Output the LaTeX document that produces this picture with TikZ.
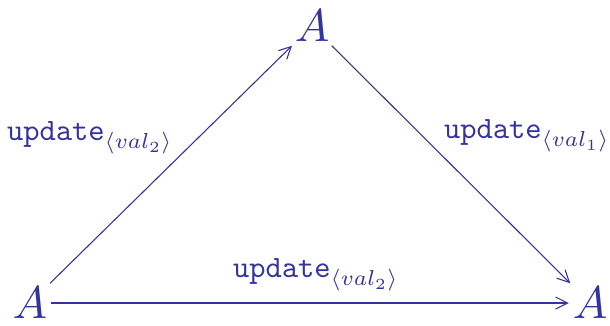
\documentclass[tikz,border=0pt]{standalone}
\usetikzlibrary{arrows.meta}
\definecolor{ink}{RGB}{52,52,158}
\newcommand{\bigAglyph}{\scalebox{4.6}{$A$}}
\newcommand{\updlbl}[1]{\scalebox{3.1}{$\mathtt{update}_{\langle val_{#1}\rangle}$}}
\begin{document}
\begin{tikzpicture}[x=1pt,y=-1pt,
  bigA/.style={text=ink,inner sep=1pt,outer sep=3pt},
  lbl/.style={text=ink,inner sep=0pt},
  arr/.style={draw=ink,line width=1.1pt,-{Straight Barb[length=12pt,width=12pt]}}]
\useasboundingbox (0,0) rectangle (610,325);
\node[bigA] (l) at (30,303) {\bigAglyph};
\node[bigA] (t) at (312,26) {\bigAglyph};
\node[bigA] (r) at (590,303) {\bigAglyph};
\draw[arr] (l) -- (t);
\draw[arr] (t) -- (r);
\draw[arr] (l) -- (r);
\node[lbl] (lab1) at (90,138) {\updlbl{2}};
\node[lbl] (lab2) at (527,136) {\updlbl{1}};
\node[lbl] (lab3) at (316,275) {\updlbl{2}};
\end{tikzpicture}
\end{document}
